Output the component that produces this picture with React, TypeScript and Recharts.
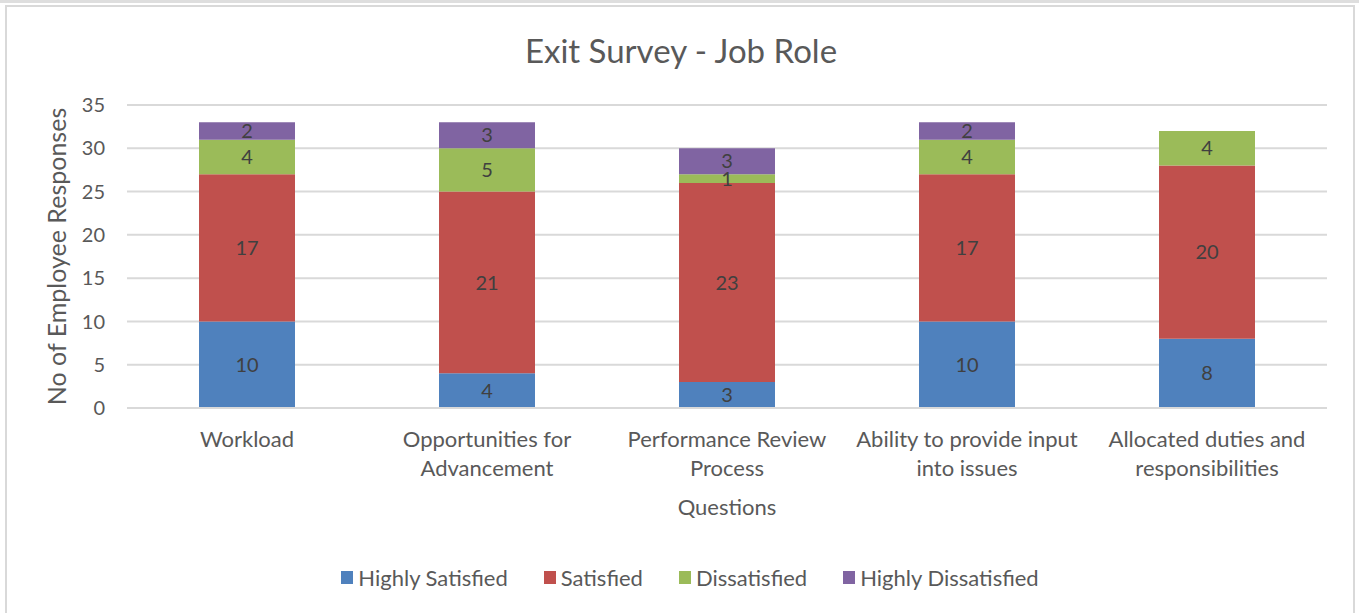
import { Bar, BarChart, CartesianGrid, Label, LabelList, XAxis, YAxis } from "recharts";

const questions = [
  "Workload",
  "Opportunities for Advancement",
  "Performance Review Process",
  "Ability to provide input into issues",
  "Allocated duties and responsibilities",
];
const questionLines = [
  ["Workload"],
  ["Opportunities for", "Advancement"],
  ["Performance Review", "Process"],
  ["Ability to provide input", "into issues"],
  ["Allocated duties and", "responsibilities"],
];
const highlySatisfied = [10, 4, 3, 10, 8];
const satisfied = [17, 21, 23, 17, 20];
const dissatisfied = [4, 5, 1, 4, 4];
const highlyDissatisfied = [2, 3, 3, 2, 0];
const yTicks = [0, 5, 10, 15, 20, 25, 30, 35];

const SERIES = [
  { key: "highlySatisfied", name: "Highly Satisfied", color: "#4F81BD" },
  { key: "satisfied", name: "Satisfied", color: "#C0504D" },
  { key: "dissatisfied", name: "Dissatisfied", color: "#9BBB59" },
  { key: "highlyDissatisfied", name: "Highly Dissatisfied", color: "#8064A2" },
];

const FONT = "Lato, 'Open Sans', sans-serif";
const TEXT = "#595959";

const data = questions.map((q, i) => ({
  question: q,
  highlySatisfied: highlySatisfied[i],
  satisfied: satisfied[i],
  dissatisfied: dissatisfied[i],
  highlyDissatisfied: highlyDissatisfied[i],
}));

function QuestionTick({ x, y, index }: any) {
  const lines = questionLines[index] ?? [];
  return (
    <g transform={`translate(${x},${y})`}>
      {lines.map((line, i) => (
        <text key={i} x={0} y={39 + i * 29} textAnchor="middle" fill={TEXT} fontSize={22} fontFamily={FONT}>
          {line}
        </text>
      ))}
    </g>
  );
}

export default function App() {
  return (
    <div style={{ position: "absolute", left: 0, top: 0, width: 1359, height: 613, overflow: "hidden", background: "#fff", fontFamily: FONT }}>
      <div style={{ position: "absolute", left: 0, top: 0, width: 1359, height: 3, background: "#dedede" }} />
      <div style={{ position: "absolute", left: 5, top: 5, width: 1346, height: 620, border: "2px solid #d9d9d9" }} />
      <div style={{ position: "absolute", left: 0, top: 30, width: 1362, textAlign: "center", fontSize: 33, lineHeight: "40px", color: TEXT }}>
        Exit Survey - Job Role
      </div>
      <div style={{ position: "absolute", left: 0, top: 0 }}>
        <BarChart width={1359} height={613} data={data} margin={{ top: 105, right: 32, bottom: 0, left: 0 }} barCategoryGap="30%">
          <CartesianGrid vertical={false} stroke="#d9d9d9" strokeWidth={2} />
          <XAxis
            dataKey="question"
            height={205}
            interval={0}
            tickLine={false}
            tickSize={0}
            tickMargin={0}
            axisLine={{ stroke: "#d9d9d9", strokeWidth: 2 }}
            tick={<QuestionTick />}
          >
            <Label value="Questions" position="insideTop" offset={91} fill={TEXT} fontSize={22} fontFamily={FONT} />
          </XAxis>
          <YAxis
            width={127}
            domain={[0, 35]}
            ticks={yTicks}
            tickLine={false}
            axisLine={false}
            tickMargin={16}
            tick={{ fill: TEXT, fontSize: 20, fontFamily: FONT }}
          >
            <Label
              value="No of Employee Responses"
              angle={-90}
              position="insideLeft"
              offset={57}
              fill={TEXT}
              fontSize={25}
              fontFamily={FONT}
              style={{ textAnchor: "middle" }}
            />
          </YAxis>
          {SERIES.map((s) => (
            <Bar key={s.key} dataKey={s.key} name={s.name} stackId="a" fill={s.color} isAnimationActive={false}>
              <LabelList
                dataKey={s.key}
                position="center"
                fill="#404040"
                fontSize={20}
                fontFamily={FONT}
                formatter={(v: any) => (v ? v : "")}
              />
            </Bar>
          ))}
        </BarChart>
      </div>
      <div style={{ position: "absolute", left: 4, top: 564, width: 1372, display: "flex", justifyContent: "center", gap: 36, fontSize: 22, color: TEXT }}>
        {SERIES.map((s) => (
          <span key={s.key} style={{ display: "flex", alignItems: "center" }}>
            <span style={{ display: "inline-block", width: 12, height: 13, background: s.color, marginRight: 5 }} />
            {s.name}
          </span>
        ))}
      </div>
    </div>
  );
}
